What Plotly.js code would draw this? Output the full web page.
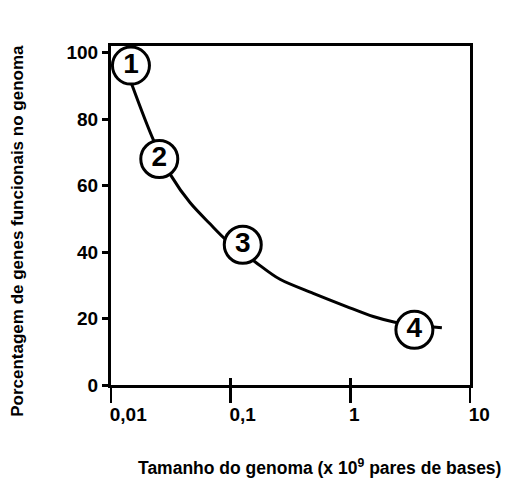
<!DOCTYPE html>
<html>
<head>
<meta charset="utf-8">
<script src="https://cdn.plot.ly/plotly-3.0.1.min.js"></script>
<style>html,body{margin:0;padding:0;background:#fff;}#chart{width:508px;height:484px;}</style>
</head>
<body>
<div id="chart"></div>
<script>
// Curve (genome size in 10^9 bp vs % functional genes)
const curveX = [0.01483, 0.02256, 0.03214, 0.04571, 0.06715, 0.09135, 0.1596, 0.2583, 0.4898, 0.9313, 1.553, 2.359, 5.82];
const curveY = [90.7, 73.8, 62.7, 54.9, 48.5, 43.7, 37.1, 31.8, 27.6, 23.6, 20.6, 18.9, 17.2];
// Numbered circles
const pointLabels = ["1", "2", "3", "4"];
const pointX = [0.01468, 0.02532, 0.1262, 3.43];
const pointY = [96.1, 68.0, 42.2, 16.6];
// Axis ticks
const xTickVals = [0.01, 0.1, 1, 10];
const xTickText = ["0,01", "0,1", "1", "10"];
const yTickVals = [0, 20, 40, 60, 80, 100];
const yTickText = ["0", "20", "40", "60", "80", "100"];

const bold = 'Liberation Sans, Arial, sans-serif';

const traces = [
  {
    x: curveX, y: curveY, mode: 'lines', type: 'scatter',
    line: {color: '#000', width: 3, shape: 'spline', smoothing: 0.9},
    hoverinfo: 'skip', showlegend: false
  },
  {
    x: pointX, y: pointY, mode: 'markers+text', type: 'scatter',
    text: pointLabels,
    textposition: 'middle center',
    textfont: {family: bold, size: 28, color: '#000', weight: 'bold'},
    marker: {size: 37, color: '#fff', line: {color: '#000', width: 3}},
    cliponaxis: false, hoverinfo: 'skip', showlegend: false
  },
  {
    x: xTickVals, y: [0, 0, 0, 0], xaxis: 'x2', mode: 'markers', type: 'scatter',
    marker: {opacity: 0}, hoverinfo: 'skip', showlegend: false
  }
];

const layout = {
  width: 508, height: 484,
  margin: {l: 111, r: 38, t: 46, b: 99},
  paper_bgcolor: '#fff', plot_bgcolor: '#fff',
  showlegend: false,
  xaxis: {
    type: 'log', range: [-2, 1],
    tickvals: xTickVals, ticktext: xTickText,
    ticks: 'outside', ticklen: 15, tickwidth: 2.5, tickcolor: '#000',
    ticklabelposition: 'outside right', ticklabelshift: -4, ticklabelstandoff: 10,
    showline: true, linewidth: 3, linecolor: '#000', mirror: true,
    showgrid: false, zeroline: false,
    tickfont: {family: bold, size: 19, color: '#000', weight: 'bold'}
  },
  xaxis2: {
    type: 'log', range: [-2, 1], overlaying: 'x', matches: 'x', anchor: 'y', side: 'bottom',
    tickvals: xTickVals, ticks: 'inside', ticklen: 7, tickwidth: 2.5, tickcolor: '#000',
    showticklabels: false, showline: false, showgrid: false, zeroline: false
  },
  yaxis: {
    range: [0, 102],
    tickvals: yTickVals, ticktext: yTickText,
    ticks: 'outside', ticklen: 6, tickwidth: 3, tickcolor: '#000',
    showline: true, linewidth: 3, linecolor: '#000', mirror: true,
    showgrid: false, zeroline: false,
    tickfont: {family: bold, size: 19, color: '#000', weight: 'bold'}
  },
  annotations: [
    {
      text: 'Tamanho do genoma (x 10<sup>9</sup> pares de bases)',
      xref: 'paper', yref: 'paper', x: 0.582, y: -0.242,
      xanchor: 'center', yanchor: 'middle', showarrow: false,
      font: {family: bold, size: 17.5, color: '#000', weight: 'bold'}
    },
    {
      text: 'Porcentagem de genes funcionais no genoma',
      xref: 'paper', yref: 'paper', x: -0.259, y: 0.455,
      xanchor: 'center', yanchor: 'middle', showarrow: false, textangle: -90,
      font: {family: bold, size: 17, color: '#000', weight: 'bold'}
    }
  ]
};

Plotly.newPlot('chart', traces, layout, {displayModeBar: false, staticPlot: true});
</script>
</body>
</html>
